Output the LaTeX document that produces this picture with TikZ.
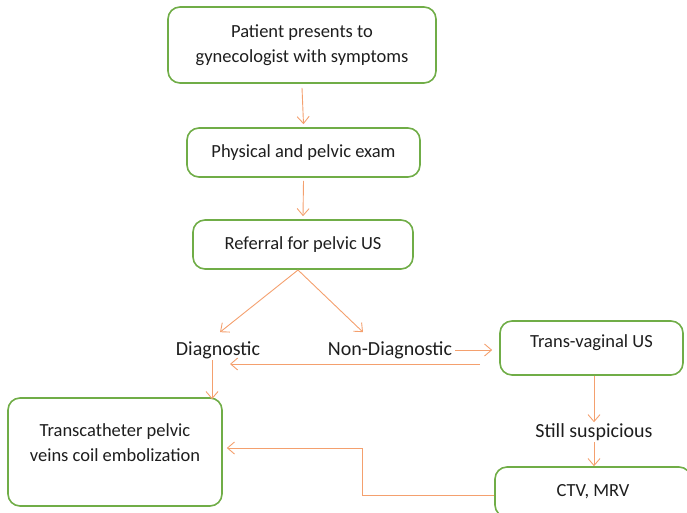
\documentclass[tikz,border=0pt]{standalone}
\usepackage{fontspec}
\setmainfont{Carlito}
\usetikzlibrary{arrows.meta}
\definecolor{boxgreen}{RGB}{112,173,71}
\definecolor{arrorange}{RGB}{244,160,110}
\definecolor{txt}{RGB}{30,30,30}
\begin{document}
\begin{tikzpicture}[x=1pt,y=-1pt,
  box/.style={draw=boxgreen,line width=1.6pt,rounded corners=12pt,align=center,
    text=txt,font=\fontsize{18.5}{25}\selectfont,fill=white},
  lbl/.style={text=txt,font=\fontsize{20}{24}\selectfont,inner sep=1pt},
  arr/.style={draw=arrorange,line width=0.9pt,-{Straight Barb[length=7pt,width=12pt]}}]
\useasboundingbox (0,0) rectangle (687,512);
\clip (0,0) rectangle (687,512);
\node[box,minimum width=268pt,minimum height=76pt] (patient) at (302,45) {Patient presents to\\gynecologist with symptoms};
\node[box,minimum width=233pt,minimum height=49pt] (exam) at (303.5,152.5) {Physical and pelvic exam};
\node[box,minimum width=220pt,minimum height=49pt] (ref) at (303,244.5) {Referral for pelvic US};
\node[lbl] (diag) at (218,350) {Diagnostic};
\node[lbl] (nondiag) at (390,350) {Non-Diagnostic};
\node[box,minimum width=183pt,minimum height=54pt,text depth=14pt] (tv) at (591.5,348) {Trans-vaginal US};
\node[lbl] (still) at (594,432) {Still suspicious};
\node[box,minimum width=214pt,minimum height=108pt,text depth=18pt] (tce) at (115,452) {Transcatheter pelvic\\veins coil embolization};
\node[box,minimum width=196pt,minimum height=50pt] (ctv) at (593,492) {CTV, MRV};
\coordinate (refout) at (298,270);
\draw[arr] ([yshift=-4pt]patient.south) -- ([yshift=3pt]exam.north);
\draw[arr] ([yshift=-3pt]exam.south) -- ([yshift=3pt]ref.north);
\draw[arr] (refout) -- ([xshift=2pt,yshift=8pt]diag.north);
\draw[arr] (refout) -- ([xshift=-27pt,yshift=8pt]nondiag.north);
\draw[arr] ([xshift=2pt]nondiag.east) -- ([xshift=-7pt]tv.west |- nondiag.east);
\draw[arr] ([xshift=-19pt,yshift=-16pt]tv.west) -- (230,364);
\draw[arr] ([xshift=-6pt]diag.south) -- ([xshift=97pt,yshift=-2pt]tce.north);
\draw[arr] (tv.south -| still.north) -- (still.north);
\draw[arr] (still.south) -- (ctv.north -| still.south);
\draw[arr] ([yshift=-3pt]ctv.west) -- (362,495) -- (362,448) -- ([xshift=4pt]tce.east |- 0,448);
\end{tikzpicture}
\end{document}
